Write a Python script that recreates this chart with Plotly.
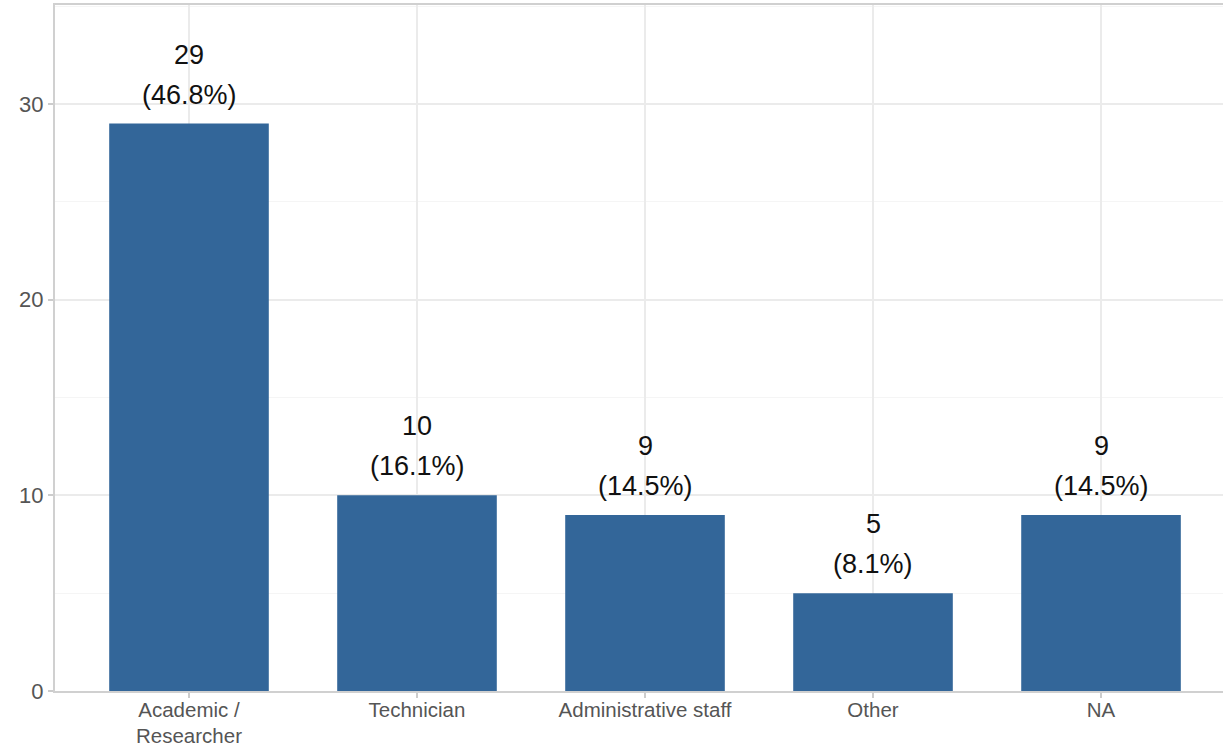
import plotly.graph_objects as go

categories = ["Academic /<br>Researcher", "Technician", "Administrative staff", "Other", "NA"]
counts = [29, 10, 9, 5, 9]
pct_labels = ["(46.8%)", "(16.1%)", "(14.5%)", "(8.1%)", "(14.5%)"]
y_ticks = [0, 10, 20, 30]

bar_color = "#336699"
font_family = "Liberation Sans, Arial, sans-serif"

xpos = list(range(len(categories)))

fig = go.Figure()
fig.add_trace(go.Bar(
    x=xpos, y=counts, width=0.7,
    marker=dict(color=bar_color, line=dict(width=0)),
    hoverinfo="skip",
))

for i, (c, p) in enumerate(zip(counts, pct_labels)):
    fig.add_annotation(x=i, y=c, text=str(c), showarrow=False, yanchor="middle",
                       yshift=69, font=dict(size=27, color="#111111", family=font_family))
    fig.add_annotation(x=i, y=c, text=p, showarrow=False, yanchor="middle",
                       yshift=29, font=dict(size=27, color="#111111", family=font_family))

fig.update_layout(
    width=1223, height=749,
    margin=dict(l=55, r=0, t=5, b=58),
    plot_bgcolor="white", paper_bgcolor="white",
    showlegend=False,
    font=dict(family=font_family),
    bargap=0.3,
)
fig.update_xaxes(
    range=[-0.5877, 4.535],
    tickmode="array", tickvals=xpos, ticktext=categories,
    tickfont=dict(size=20.5, color="#555555", family=font_family),
    showgrid=True, gridcolor="#ebebeb", gridwidth=1.5,
    showline=True, linecolor="#d0d0d0", linewidth=2, mirror=True,
    ticks="outside", ticklen=5, tickcolor="#cccccc", tickwidth=1.5,
    ticklabelstandoff=-6,
    zeroline=False, fixedrange=True, automargin=False,
)
fig.update_yaxes(
    range=[0, 35.06],
    tickmode="array", tickvals=y_ticks, ticktext=[str(t) for t in y_ticks],
    tickfont=dict(size=22, color="#555555", family=font_family),
    showgrid=True, gridcolor="#ebebeb", gridwidth=1.5,
    minor=dict(tickmode="array", tickvals=[5, 15, 25, 35], showgrid=True,
               gridcolor="#f5f5f5", gridwidth=1, ticks=""),
    showline=True, linecolor="#d0d0d0", linewidth=2,
    ticks="outside", ticklen=5, tickcolor="#cccccc", tickwidth=1.5,
    zeroline=False, fixedrange=True, automargin=False,
)

fig.write_html("out.html", config={"displayModeBar": False},
               post_script="document.body.style.margin='0px';")
